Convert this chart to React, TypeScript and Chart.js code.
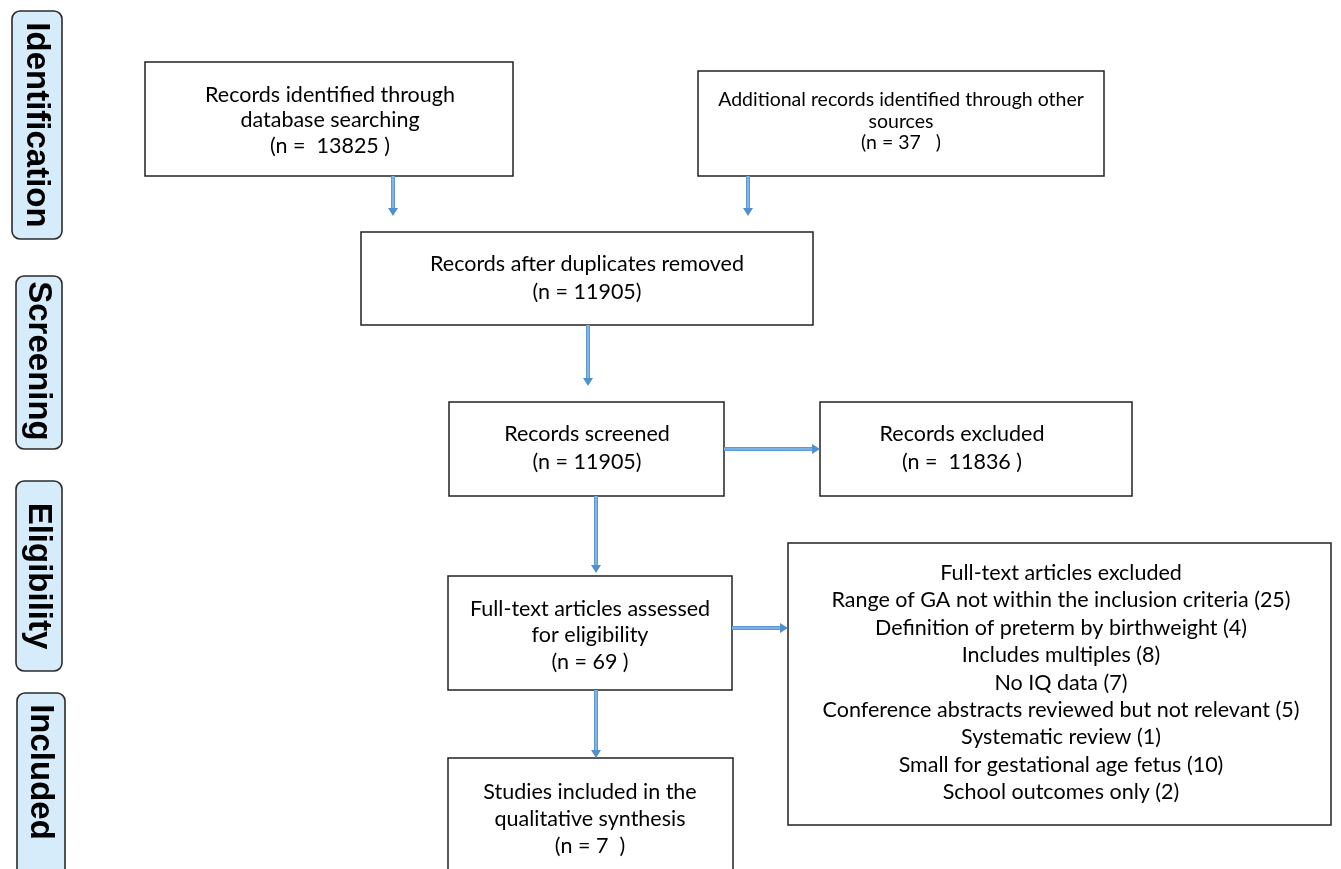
import React, { useEffect, useRef } from "react";
import { Chart, registerables } from "chart.js";

Chart.register(...registerables);

// ---- Data ----
const stageLabels = ["Identification", "Screening", "Eligibility", "Included"];
const recordCounts = [13825, 37, 11905, 11905, 11836, 69, 7];
const nodeTitles: string[][] = [
  ["Records identified through", "database searching"],
  ["Additional records identified through other", "sources"],
  ["Records after duplicates removed"],
  ["Records screened"],
  ["Records excluded"],
  ["Full-text articles assessed", "for eligibility"],
  ["Studies included in the", "qualitative synthesis"],
];
const countFormats = ["(n =  {n} )", "(n = {n}   )", "(n = {n})", "(n = {n})", "(n =  {n} )", "(n = {n} )", "(n = {n}  )"];
const exclusionHeader = "Full-text articles excluded";
const exclusionReasons = [
  "Range of GA not within the inclusion criteria",
  "Definition of preterm by birthweight",
  "Includes multiples",
  "No IQ data",
  "Conference abstracts reviewed but not relevant",
  "Systematic review",
  "Small for gestational age fetus",
  "School outcomes only",
];
const exclusionCounts = [25, 4, 8, 7, 5, 1, 10, 2];

// ---- Layout (diagram coordinates) ----
const W = 1341;
const H = 869;
const nodeBoxes = [
  { x0: 145, x1: 513, y0: 62, y1: 176, cx: 330, ty: 95, gap: 25.5, size: 21.5 },
  { x0: 698, x1: 1104, y0: 71, y1: 176, cx: 901, ty: 100, gap: 21.5, size: 19.5 },
  { x0: 361, x1: 813, y0: 232, y1: 325, cx: 587, ty: 264, gap: 28, size: 21.5 },
  { x0: 449, x1: 724, y0: 402, y1: 496, cx: 587, ty: 434, gap: 28, size: 21.5 },
  { x0: 820, x1: 1132, y0: 402, y1: 496, cx: 962, ty: 434, gap: 28, size: 21.5 },
  { x0: 448, x1: 732, y0: 576, y1: 690, cx: 590, ty: 609, gap: 26.5, size: 21.5 },
  { x0: 448, x1: 733, y0: 758, y1: 900, cx: 590, ty: 792, gap: 27, size: 21.5 },
];
const exclusionBox = { x0: 788, x1: 1331, y0: 543, y1: 825, cx: 1061, ty: 573, gap: 27.4, size: 21.5 };
const stageBoxes = [
  { x0: 12, x1: 62, y0: 11, y1: 239, cy: 125 },
  { x0: 16, x1: 62, y0: 276, y1: 449, cy: 361 },
  { x0: 16, x1: 62, y0: 481, y1: 671, cy: 576 },
  { x0: 17, x1: 65, y0: 693, y1: 900, cy: 772 },
];
const arrows = [
  { x0: 393, y0: 176, x1: 393, y1: 216 },
  { x0: 748, y0: 176, x1: 748, y1: 216 },
  { x0: 588, y0: 325, x1: 588, y1: 386 },
  { x0: 596, y0: 496, x1: 596, y1: 573 },
  { x0: 724, y0: 449, x1: 820, y1: 449 },
  { x0: 732, y0: 628, x1: 788, y1: 628 },
  { x0: 596, y0: 690, x1: 596, y1: 758 },
];

const BOX_FONT = "Lato, 'Open Sans', sans-serif";
const STAGE_FONT = "'Liberation Sans', Arial, sans-serif";

const flowPlugin = {
  id: "flowPlugin",
  beforeDatasetsDraw(chart: any) {
    const { ctx, scales } = chart;
    const X = (v: number) => scales.x.getPixelForValue(v);
    const Y = (v: number) => scales.y.getPixelForValue(v);
    ctx.save();
    ctx.fillStyle = "#ffffff";
    ctx.fillRect(0, 0, chart.width, chart.height);

    // stage labels
    stageBoxes.forEach((b, i) => {
      const x0 = X(b.x0), x1 = X(b.x1), y0 = Y(b.y0), y1 = Y(b.y1);
      ctx.beginPath();
      ctx.roundRect(x0, y0, x1 - x0, y1 - y0, 8);
      ctx.fillStyle = "#d6ecfb";
      ctx.fill();
      ctx.lineWidth = 1.6;
      ctx.strokeStyle = "#2b2b2b";
      ctx.stroke();
      ctx.save();
      ctx.translate((x0 + x1) / 2, Y(b.cy));
      ctx.rotate(Math.PI / 2);
      ctx.fillStyle = "#000";
      ctx.font = `bold 33px ${STAGE_FONT}`;
      ctx.textAlign = "center";
      ctx.textBaseline = "middle";
      ctx.fillText(stageLabels[i], 0, 1);
      ctx.restore();
    });

    const drawBox = (b: any, lines: string[]) => {
      const x0 = X(b.x0), x1 = X(b.x1), y0 = Y(b.y0), y1 = Y(b.y1);
      ctx.fillStyle = "#fff";
      ctx.fillRect(x0, y0, x1 - x0, y1 - y0);
      ctx.lineWidth = 1.5;
      ctx.strokeStyle = "#222";
      ctx.strokeRect(x0, y0, x1 - x0, y1 - y0);
      ctx.fillStyle = "#000";
      ctx.font = `${b.size}px ${BOX_FONT}`;
      ctx.textAlign = "center";
      ctx.textBaseline = "middle";
      lines.forEach((t, k) => ctx.fillText(t, X(b.cx), Y(b.ty + k * b.gap)));
    };

    nodeBoxes.forEach((b, i) => {
      const lines = [...nodeTitles[i], countFormats[i].replace("{n}", String(recordCounts[i]))];
      drawBox(b, lines);
    });
    drawBox(exclusionBox, [
      exclusionHeader,
      ...exclusionReasons.map((r, k) => `${r} (${exclusionCounts[k]})`),
    ]);
    ctx.restore();
  },
  afterDatasetsDraw(chart: any) {
    const { ctx, scales } = chart;
    const X = (v: number) => scales.x.getPixelForValue(v);
    const Y = (v: number) => scales.y.getPixelForValue(v);
    ctx.save();
    arrows.forEach((a) => {
      const x0 = X(a.x0), y0 = Y(a.y0), x1 = X(a.x1), y1 = Y(a.y1);
      const ang = Math.atan2(y1 - y0, x1 - x0);
      ctx.beginPath();
      ctx.moveTo(x0, y0);
      ctx.lineTo(x1 - 6 * Math.cos(ang), y1 - 6 * Math.sin(ang));
      ctx.strokeStyle = "#9cc8ee";
      ctx.lineWidth = 1.2;
      ctx.stroke();
      const L = 8, Wd = 5;
      ctx.beginPath();
      ctx.moveTo(x1, y1);
      ctx.lineTo(x1 - L * Math.cos(ang) + Wd * Math.sin(ang), y1 - L * Math.sin(ang) - Wd * Math.cos(ang));
      ctx.lineTo(x1 - L * Math.cos(ang) - Wd * Math.sin(ang), y1 - L * Math.sin(ang) + Wd * Math.cos(ang));
      ctx.closePath();
      ctx.fillStyle = "#4f90cf";
      ctx.fill();
    });
    ctx.restore();
  },
};

export default function App() {
  const ref = useRef<HTMLCanvasElement | null>(null);
  useEffect(() => {
    if (!ref.current) return;
    const datasets = arrows.map((a) => ({
      type: "line" as const,
      data: [
        { x: a.x0, y: a.y0 },
        { x: a.x1 - (a.x1 !== a.x0 ? 6 : 0), y: a.y1 - (a.y1 !== a.y0 ? 6 : 0) },
      ],
      borderColor: "#5b9bd5",
      borderWidth: 4,
      pointRadius: 0,
      showLine: true,
      borderCapStyle: "butt" as const,
    }));
    const chart = new Chart(ref.current, {
      type: "scatter",
      data: { datasets },
      options: {
        animation: false,
        responsive: true,
        maintainAspectRatio: false,
        layout: { padding: 0 },
        plugins: { legend: { display: false }, tooltip: { enabled: false } },
        scales: {
          x: { type: "linear", min: 0, max: W, display: false },
          y: { type: "linear", min: 0, max: H, reverse: true, display: false },
        },
      },
      plugins: [flowPlugin],
    });
    return () => chart.destroy();
  }, []);
  return (
    <div style={{ position: "fixed", left: 0, top: 0, width: W, height: H, background: "#fff" }}>
      <canvas ref={ref} />
    </div>
  );
}
